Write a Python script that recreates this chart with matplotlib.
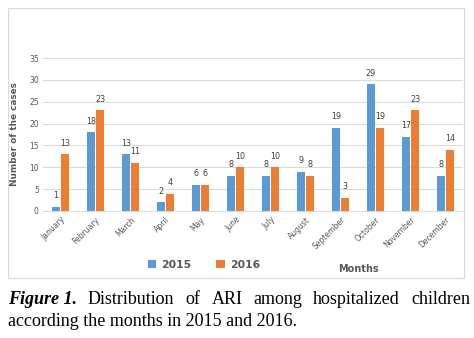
import numpy as np
import matplotlib.pyplot as plt
from matplotlib.patches import Rectangle

months = ['January', 'February', 'March', 'April', 'May', 'June', 'July',
          'August', 'September', 'October', 'November', 'December']
cases_2015 = [1, 18, 13, 2, 6, 8, 8, 9, 19, 29, 17, 8]
cases_2016 = [13, 23, 11, 4, 6, 10, 10, 8, 3, 19, 23, 14]

blue = '#5B9BD5'
orange = '#ED7D31'
grey = '#595959'

fig = plt.figure(figsize=(4.74, 3.38), dpi=100)
W, H = 474.0, 338.0

# chart frame
fig.patches.append(Rectangle((8 / W, 1 - 278 / H), 456 / W, 270 / H,
                             transform=fig.transFigure, fill=False,
                             edgecolor='#D9D9D9', linewidth=0.8))

ax = fig.add_axes([43 / W, 1 - 211 / H, 420 / W, 153 / H])
x = np.arange(len(months))
w = 0.24
b1 = ax.bar(x - 0.135, cases_2015, w, color=blue, label='2015', zorder=3)
b2 = ax.bar(x + 0.135, cases_2016, w, color=orange, label='2016', zorder=3)

for bars in (b1, b2):
    for r in bars:
        ax.text(r.get_x() + r.get_width() / 2, r.get_height() + 1.5,
                str(int(r.get_height())), ha='center', va='bottom',
                fontsize=5.8, color='#404040')

ax.set_ylim(0, 35)
ax.set_xlim(-0.5, 11.5)
ax.set_yticks(range(0, 36, 5))
ax.yaxis.grid(True, color='#D9D9D9', linewidth=0.7, zorder=0)
for s in ['top', 'right', 'left']:
    ax.spines[s].set_visible(False)
ax.spines['bottom'].set_color('#D9D9D9')
ax.spines['bottom'].set_linewidth(0.7)
ax.tick_params(length=0, labelsize=5.5, labelcolor=grey, pad=3)
ax.set_xticks(x)
ax.set_xticklabels(months, rotation=45, ha='right', rotation_mode='anchor')
ax.set_ylabel('Number of the cases', fontsize=6.4, fontweight='bold', color=grey, labelpad=7)

fig.text(358 / W, 1 - 269 / H, 'Months', fontsize=7, fontweight='bold',
         color=grey, ha='center', va='center')

leg = fig.legend(handles=[b1, b2], loc='center', bbox_to_anchor=(204 / W, 1 - 265 / H),
                 ncol=2, frameon=False, fontsize=7.8, handlelength=0.75,
                 handleheight=0.75, columnspacing=2.3, handletextpad=0.5)
for t in leg.get_texts():
    t.set_fontweight('bold')
    t.set_color(grey)

# caption, first line justified between x=8 and x=470
fig.canvas.draw()
renderer = fig.canvas.get_renderer()
cap_fs = 13
words = ['Figure 1.', 'Distribution', 'of', 'ARI', 'among', 'hospitalized', 'children']
objs = []
for i, wd in enumerate(words):
    if i == 0:
        t = fig.text(0, 1 - 300 / H, wd, fontsize=cap_fs, family='Liberation Serif',
                     fontweight='bold', style='italic', va='center', ha='left')
    else:
        t = fig.text(0, 1 - 300 / H, wd, fontsize=cap_fs, family='Liberation Serif',
                     va='center', ha='left')
    objs.append(t)
widths = [t.get_window_extent(renderer).width for t in objs]
gap = (462 - sum(widths)) / (len(words) - 1)
xpos = 8.0
for t, wd in zip(objs, widths):
    t.set_x(xpos / W)
    xpos += wd + gap
fig.text(8 / W, 1 - 322 / H, 'according the months in 2015 and 2016.',
         fontsize=cap_fs, family='Liberation Serif', va='center', ha='left')

fig.savefig('out.png', dpi=100)
